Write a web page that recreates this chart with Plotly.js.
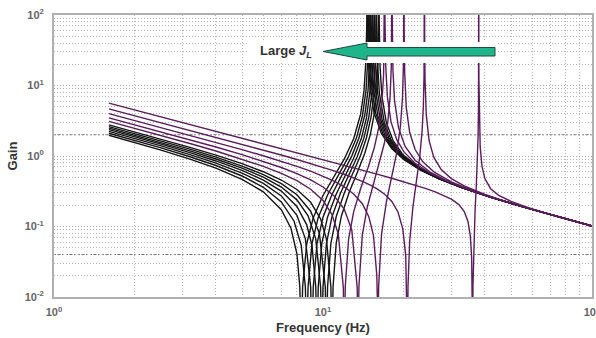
<!DOCTYPE html>
<html>
<head>
<meta charset="utf-8">
<script src="https://cdn.plot.ly/plotly-3.0.1.min.js"></script>
<style>html,body{margin:0;padding:0;background:#fff;}#chart{width:596px;height:338px;}</style>
</head>
<body>
<div id="chart"></div>
<script>
// ---- data (frequency in Hz, gain) ----
const freqB1 = [1.6,2,2.5,3.2,4,5,6,7,7.6,8,8.2,8.3,8.4,8.7,9.2,10,11,12,13,13.8,14.2,14.45,14.55,14.59,14.63,14.75,15,15.5,16.5,18,20,23,27,33,42,55,72,100];
const gainB1 = [1.971,1.553,1.213,0.9044,0.6716,0.4672,0.3099,0.1734,0.0944,0.04105,0.01382,0.002,0.01397,0.05697,0.1335,0.2756,0.5155,0.9086,1.7546,3.923,8.31,23.7,82.4,1000,86.3,21.6,8.594,4.041,2.076,1.2756,0.8848,0.6328,0.4737,0.3528,0.2602,0.1911,0.1429,0.1015];

const freqB2 = [1.6,2,2.5,3.2,4,5,6,7,7.8,8.3,8.6,8.7,8.8,9.1,9.6,10.4,11.4,12.4,13.3,14,14.45,14.7,14.79,14.822,14.86,14.97,15.2,15.7,16.7,18.2,20,23,27,33,42,55,72,100];
const gainB2 = [2.105,1.662,1.301,0.9766,0.7326,0.5207,0.3601,0.2234,0.1199,0.05433,0.0138,0.002,0.01398,0.05715,0.1345,0.2799,0.5305,0.955,1.778,3.6275,8.459,26.53,101.8,1000,86.4,22.48,9.005,4.059,2.0553,1.2587,0.8993,0.6372,0.4751,0.3532,0.2603,0.1911,0.1429,0.1015];

const freqB3 = [1.6,2,2.5,3.2,4,5,6,7,8,8.6,9.0,9.1,9.2,9.5,10,10.8,11.8,12.8,13.6,14.3,14.7,14.95,15.03,15.06,15.1,15.22,15.45,16,17,18.5,20,23,27,33,42,55,72,100];
const gainB3 = [2.237,1.7685,1.3885,1.0472,0.7923,0.5729,0.4089,0.2716,0.1444,0.06689,0.01379,0.002,0.01399,0.05735,0.1356,0.2843,0.5461,1.0053,1.7948,3.8123,8.458,28.43,104.6,1000,80.1,20.2,8.486,3.708,1.9503,1.2148,0.9157,0.642,0.4766,0.3536,0.2604,0.1912,0.1429,0.1015];

const freqB4 = [1.6,2,2.5,3.2,4,5,6,7,8,8.7,9.1,9.4,9.5,9.6,9.9,10.4,11.2,12.1,13,13.9,14.5,14.95,15.2,15.28,15.305,15.34,15.46,15.7,16.3,17.3,18.8,20,23,27,33,42,55,72,100];
const gainB4 = [2.3655,1.873,1.4737,1.1162,0.8505,0.6237,0.4561,0.3181,0.1927,0.1056,0.05399,0.01378,0.002,0.014,0.05753,0.1366,0.2888,0.5284,0.9284,1.8049,3.448,8.291,28.86,121.7,1000,88.4,20.21,8.13,3.4235,1.8578,1.1746,0.9344,0.6472,0.4782,0.3541,0.2605,0.1912,0.143,0.1015];

const freqB5 = [1.6,2,2.5,3.2,4,5,6,7,8,8.8,9.4,9.8,9.9,10,10.3,10.8,11.6,12.5,13.4,14.2,14.8,15.2,15.45,15.53,15.557,15.59,15.71,15.95,16.6,17.6,19.1,20,23,27,33,42,55,72,100];
const gainB5 = [2.4913,1.9749,1.5569,1.1834,0.9071,0.6729,0.5017,0.3628,0.2388,0.142,0.06681,0.01377,0.002,0.01401,0.05772,0.1376,0.2933,0.5433,0.9745,1.8077,3.56,7.978,27.51,111.1,1000,89.5,19.77,7.914,3.188,1.7758,1.1375,0.9557,0.653,0.4799,0.3546,0.2606,0.1913,0.143,0.1015];

const freqB6 = [1.6,2,2.5,3.2,4,5,6,7,8,9,9.7,10.2,10.3,10.4,10.7,11.2,12,12.9,13.8,14.5,15.1,15.45,15.7,15.79,15.814,15.85,15.97,16.2,16.9,17.9,19.4,20,23,27,33,42,55,72,100];
const gainB6 = [2.614,2.0742,1.6378,1.2488,0.9621,0.7205,0.5456,0.4056,0.2827,0.1649,0.0793,0.01376,0.002,0.01402,0.0579,0.1386,0.2978,0.5588,1.0247,1.8031,3.6567,7.536,24.84,117.8,1000,81.0,18.84,7.815,2.9906,1.7027,1.1033,0.9803,0.6593,0.4818,0.3551,0.2607,0.1914,0.1431,0.1015];

const freqB7 = [1.6,2,2.5,3.2,4,5,6,7,8,9,9.8,10.3,10.7,10.8,10.9,11.2,11.7,12.5,13.4,14.3,15,15.5,15.85,16.05,16.12,16.144,16.18,16.3,16.55,17.2,18.2,19.7,20,23,27,33,42,55,72,100];
const gainB7 = [2.7626,2.1945,1.7357,1.3279,1.0285,0.7778,0.5983,0.4566,0.3346,0.2204,0.1277,0.06627,0.01375,0.002,0.01404,0.05812,0.1399,0.3036,0.5791,1.0941,2.027,3.9112,9.014,28.89,112.5,1000,78.0,18.1,7.166,2.96,1.6702,1.0812,1.0166,0.6681,0.4843,0.3557,0.2609,0.1913,0.1431,0.1015];

const freqP1 = [1.6,2,2.5,3.2,4,5,6,7,8,9,10,10.8,11.4,11.9,12,12.1,12.45,13,13.8,14.7,15.5,16.1,16.55,16.8,16.92,16.95,16.971,17.0,17.1,17.35,17.9,18.8,20,22,25,29,35,42,55,72,100];
const gainP1 = [3.097,2.4648,1.9556,1.5049,1.1765,0.9049,0.7143,0.5679,0.4464,0.3382,0.234,0.1478,0.07793,0.01372,0.002,0.01407,0.06643,0.1616,0.3449,0.682,1.3005,2.4855,5.567,14.286,49.18,120.8,1000,85.3,19.68,6.951,3.041,1.7024,1.1429,0.7885,0.5709,0.4346,0.3296,0.2613,0.1914,0.143,0.1015];

const freqP2 = [1.6,2,2.5,3.2,4,5,6,7,8,9,10,11,12,12.8,13.4,13.5,13.6,14,14.6,15.4,16.2,16.9,17.4,17.75,17.95,18.03,18.05,18.062,18.09,18.2,18.45,19.1,20.2,22,25,29,35,42,55,72,100];
const gainP2 = [3.4695,2.7657,2.2,1.701,1.3396,1.044,0.8398,0.6866,0.5636,0.4587,0.3635,0.2713,0.1749,0.08857,0.01369,0.002,0.0141,0.0754,0.1872,0.4002,0.7757,1.5049,2.9485,6.687,19.25,67.7,176.7,1000,80.2,16.41,6.058,2.479,1.3666,0.8695,0.5928,0.4413,0.3315,0.2619,0.1915,0.143,0.1015];

const freqP3 = [1.6,2,2.5,3.2,4,5,6,7,8,9,10,11,12,13,14,14.8,15.4,15.85,15.95,16,16.1,16.5,17.2,18,18.8,19.4,19.75,19.92,19.98,20,20.03,20.12,20.4,21,22,23.5,26,30,36,45,58,75,100];
const gainP3 = [3.9855,3.1818,2.5371,1.9704,1.5625,1.232,1.0073,0.8425,0.7143,0.6095,0.52,0.4399,0.3646,0.2897,0.2101,0.138,0.07513,0.02027,0.00689,0.002,0.01416,0.0771,0.2224,0.4971,1.1132,2.6245,6.829,22.09,89.6,1000,60.4,15.38,4.858,2.1487,1.2338,0.828,0.5853,0.4293,0.3224,0.2419,0.1808,0.137,0.1015];

const freqP4 = [1.6,2,2.5,3.2,4,5,6,7,8,9,10,11,12,13,14,15,16,17,18,19,19.8,20.3,20.5,20.6,20.7,21,21.6,22.3,22.9,23.35,23.6,23.75,23.82,23.84,23.87,23.95,24.2,24.8,25.8,27.5,30,34,40,48,60,78,100];
const gainP4 = [4.6593,3.7242,2.9753,2.3187,1.8482,1.47,1.2159,1.0325,0.8931,0.7828,0.6925,0.6165,0.5505,0.4919,0.4381,0.3871,0.3369,0.285,0.2282,0.1608,0.09258,0.03868,0.01354,0.002,0.01427,0.06222,0.1919,0.4602,0.9941,2.2369,4.929,13.68,61.9,1000,42.9,11.89,3.857,1.647,0.9613,0.6423,0.4781,0.3662,0.2849,0.2256,0.1746,0.1316,0.1015];

const freqP5 = [1.6,2,2.5,3.2,4,5,6,7,8,10,12,14,16,18,20,22,24,26,28,30,32,33.5,34.6,35.3,35.7,35.9,36,36.1,36.35,36.75,37.15,37.5,37.72,37.85,37.91,37.935,37.947,37.96,37.99,38.1,38.4,39,40,42,45,50,58,70,85,100];
const gainP5 = [5.6239,4.4986,3.5982,2.8103,2.2472,1.7965,1.4957,1.2807,1.1192,0.8925,0.7407,0.6316,0.549,0.4839,0.4308,0.3861,0.3472,0.3121,0.2787,0.2444,0.2043,0.1632,0.1176,0.07292,0.0364,0.01325,0.002,0.0146,0.05869,0.166,0.3782,0.8711,1.9544,4.877,13.3,41.9,1000,39.8,11.96,3.518,1.3455,0.7123,0.475,0.3439,0.2769,0.2272,0.1853,0.1488,0.1206,0.1017];

const blackSeries  = [[freqB1,gainB1],[freqB2,gainB2],[freqB3,gainB3],[freqB4,gainB4],[freqB5,gainB5],[freqB6,gainB6],[freqB7,gainB7]];
const purpleSeries = [[freqP1,gainP1],[freqP2,gainP2],[freqP3,gainP3],[freqP4,gainP4],[freqP5,gainP5]];

const xTitle = 'Frequency (Hz)';
const yTitle = 'Gain';
const arrowLabel = 'Large <i>J</i><sub><i>L</i></sub>';
const decadeLabels = {'0.01':'10<sup>-2</sup>','0.1':'10<sup>-1</sup>','1':'10<sup>0</sup>','10':'10<sup>1</sup>','100':'10<sup>2</sup>'};

// ---- styling ----
const BLACK = '#151515', PURPLE = '#5a1d5c';
const traces = [];
blackSeries.forEach(s => traces.push({x:s[0], y:s[1], type:'scatter', mode:'lines', line:{color:BLACK, width:1.4}, hoverinfo:'skip'}));
purpleSeries.forEach(s => traces.push({x:s[0], y:s[1], type:'scatter', mode:'lines', line:{color:PURPLE, width:1.4}, hoverinfo:'skip'}));

const gridCommon = {
  showgrid:true, gridcolor:'#a8a8a8', griddash:'1px,2px', gridwidth:1,
  minor:{dtick:'D1', showgrid:true, gridcolor:'#b4b4b4', griddash:'1px,2px', gridwidth:1, ticks:''},
  showline:true, mirror:true, linecolor:'#b0b0b0', linewidth:2,
  ticks:'', zeroline:false,
  tickmode:'linear', tick0:0, dtick:1,
  labelalias: decadeLabels,
  ticklabeloverflow:'allow',
  tickfont:{family:'Liberation Sans, Arial, sans-serif', size:11, color:'#666', weight:'bold'}
};

const layout = {
  width:596, height:338,
  margin:{l:54, r:4, t:15, b:41},
  paper_bgcolor:'#ffffff', plot_bgcolor:'#ffffff',
  showlegend:false,
  font:{family:'Liberation Sans, Arial, sans-serif', color:'#333'},
  xaxis: Object.assign({}, gridCommon, {
    type:'log', range:[0,2], ticklabelstandoff:4,
    title:{text:xTitle, font:{size:13, color:'#333', weight:'bold'}, standoff:6}
  }),
  yaxis: Object.assign({}, gridCommon, {
    type:'log', range:[-2,2], ticklabelstandoff:6,
    title:{text:yTitle, font:{size:13, color:'#333', weight:'bold'}, standoff:4}
  }),
  shapes:[
    {type:'line', xref:'paper', x0:0, x1:1, yref:'y', y0:2, y1:2, line:{color:'#707070', width:1, dash:'2px,2px'}, layer:'below'},
    {type:'line', xref:'paper', x0:0, x1:1, yref:'y', y0:0.04, y1:0.04, line:{color:'#707070', width:1, dash:'2px,2px'}, layer:'below'},
    {type:'rect', xref:'paper', yref:'paper', x0:0.3606, x1:0.8234, y0:0.8298, y1:0.9043, fillcolor:'#ffffff', line:{width:0}, layer:'above'},
    {type:'path', xref:'paper', yref:'paper',
     path:'M 0.5,0.8706 L 0.5818,0.9007 L 0.5818,0.8848 L 0.8197,0.8848 L 0.8197,0.8546 L 0.5818,0.8546 L 0.5818,0.8404 Z',
     fillcolor:'#1fb58c', line:{color:'#24473c', width:1}, layer:'above'}
  ],
  annotations:[
    {xref:'paper', yref:'paper', x:0.379, y:0.872, xanchor:'left', yanchor:'middle', showarrow:false,
     text:arrowLabel, font:{size:13, color:'#333', weight:'bold'}}
  ]
};

Plotly.newPlot('chart', traces, layout, {staticPlot:true, displayModeBar:false});
</script>
</body>
</html>
